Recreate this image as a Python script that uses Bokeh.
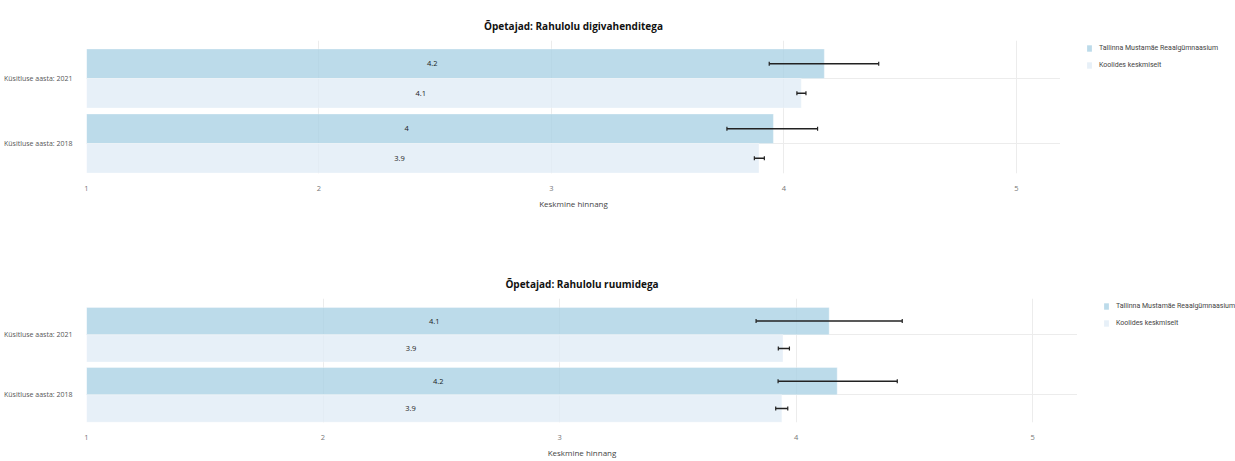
from bokeh.plotting import figure
from bokeh.models import (ColumnDataSource, Range1d, FixedTicker, Whisker, TeeHead,
                          Legend, LegendItem)
from bokeh.layouts import column, row
from bokeh.core.properties import value
from bokeh.embed import file_html
from bokeh.resources import INLINE

# ---------------- data ----------------
years = ["Küsitluse aasta: 2018", "Küsitluse aasta: 2021"]
series_names = ["Tallinna Mustamäe Reaalgümnaasium", "Koolides keskmiselt"]
x_ticks = [1, 2, 3, 4, 5]
x_axis_title = "Keskmine hinnang"

digi_title = "Õpetajad: Rahulolu digivahenditega"
digi_school = [3.955, 4.174]
digi_school_lo = [3.755, 3.937]
digi_school_hi = [4.145, 4.408]
digi_avg = [3.893, 4.075]
digi_avg_lo = [3.873, 4.056]
digi_avg_hi = [3.916, 4.095]

ruum_title = "Õpetajad: Rahulolu ruumidega"
ruum_school = [4.174, 4.140]
ruum_school_lo = [3.924, 3.831]
ruum_school_hi = [4.428, 4.449]
ruum_avg = [3.940, 3.945]
ruum_avg_lo = [3.914, 3.925]
ruum_avg_hi = [3.965, 3.972]

# ---------------- style ----------------
FONT = "Open Sans"
LEGEND_FONT = "Roboto"
SCHOOL_COLOR = "#abd2e5"
AVG_COLOR = "#e1ecf6"
BAR_ALPHA = 0.8
GRID_COLOR = "#ececec"
BAR_H = 0.455
OFFSET = 0.2275
BAR_BASE = 0.8


def label_of(v):
    return f"{round(v, 1):g}"


def make_chart(title, school, s_lo, s_hi, avg, a_lo, a_hi, width, height,
               b_top, b_bottom, y_start, y_end):
    idx = list(range(len(years)))
    src_s = ColumnDataSource(dict(
        y=[i + OFFSET for i in idx], v=school, lo=s_lo, hi=s_hi,
        tx=[(BAR_BASE + v) / 2 for v in school], lab=[label_of(v) for v in school]))
    src_a = ColumnDataSource(dict(
        y=[i - OFFSET for i in idx], v=avg, lo=a_lo, hi=a_hi,
        tx=[(BAR_BASE + v) / 2 for v in avg], lab=[label_of(v) for v in avg]))

    p = figure(width=width, height=height, output_backend="svg", toolbar_location=None,
               x_range=Range1d(1, 5.19), y_range=Range1d(y_start, y_end),
               min_border_left=86, min_border_right=0,
               min_border_top=b_top, min_border_bottom=b_bottom,
               title=title)
    p.outline_line_color = None
    p.background_fill_color = "white"
    p.border_fill_color = "white"

    p.title.align = "center"
    p.title.text_font = FONT
    p.title.text_font_style = "bold"
    p.title.text_font_size = "10px"
    p.title.text_color = "#111111"
    p.title.standoff = 15

    p.hbar(y="y", left=BAR_BASE, right="v", height=BAR_H, source=src_s,
           fill_color=SCHOOL_COLOR, fill_alpha=BAR_ALPHA,
           line_color="white", line_alpha=0.35, line_width=1)
    p.hbar(y="y", left=BAR_BASE, right="v", height=BAR_H, source=src_a,
           fill_color=AVG_COLOR, fill_alpha=BAR_ALPHA,
           line_color="white", line_alpha=0.35, line_width=1)

    for src in (src_s, src_a):
        p.text(x="tx", y="y", text="lab", source=src, text_align="center",
               text_baseline="middle", text_font=value(FONT), text_font_size="7.5px",
               text_color="#222222")
        w = Whisker(base="y", lower="lo", upper="hi", dimension="width", source=src,
                    line_color="#222222", line_width=1.5, level="overlay",
                    lower_head=TeeHead(size=4, line_width=1.2, line_color="#222222"),
                    upper_head=TeeHead(size=4, line_width=1.2, line_color="#222222"))
        p.add_layout(w)

    # axes
    p.xaxis.ticker = FixedTicker(ticks=x_ticks)
    p.xaxis.axis_line_color = None
    p.xaxis.major_tick_line_color = None
    p.xaxis.minor_tick_line_color = None
    p.xaxis.major_label_text_font = FONT
    p.xaxis.major_label_text_font_size = "7.5px"
    p.xaxis.major_label_text_color = "#777777"
    p.xaxis.major_label_standoff = 6
    p.xaxis.axis_label = x_axis_title
    p.xaxis.axis_label_text_font = FONT
    p.xaxis.axis_label_text_font_style = "normal"
    p.xaxis.axis_label_text_font_size = "8px"
    p.xaxis.axis_label_text_color = "#444444"
    p.xaxis.axis_label_standoff = 4

    p.yaxis.ticker = FixedTicker(ticks=idx)
    p.yaxis.major_label_overrides = {i: years[i] for i in idx}
    p.yaxis.axis_line_color = None
    p.yaxis.major_tick_line_color = None
    p.yaxis.minor_tick_line_color = None
    p.yaxis.major_label_text_font = FONT
    p.yaxis.major_label_text_font_size = "7px"
    p.yaxis.major_label_text_color = "#555555"
    p.yaxis.major_label_standoff = 8

    p.xgrid.grid_line_color = GRID_COLOR
    p.ygrid.grid_line_color = GRID_COLOR
    p.xgrid.ticker = FixedTicker(ticks=x_ticks)
    p.ygrid.ticker = FixedTicker(ticks=idx)
    return p


def make_legend(width, height, b_top, b_bottom):
    q = figure(width=width, height=height, output_backend="svg", toolbar_location=None,
               x_axis_location=None, y_axis_location=None,
               min_border_left=23, min_border_right=0,
               min_border_top=b_top, min_border_bottom=b_bottom,
               x_range=Range1d(0, 1), y_range=Range1d(0, 1))
    q.outline_line_color = None
    q.xgrid.visible = False
    q.ygrid.visible = False
    # legend swatches only: renderers with a single undrawable (NaN) row
    hidden = dict(y=[float("nan")], v=[float("nan")])
    r1 = q.hbar(y="y", left=0, right="v", height=0, source=ColumnDataSource(hidden),
                fill_color=SCHOOL_COLOR, fill_alpha=BAR_ALPHA, line_color=None)
    r2 = q.hbar(y="y", left=0, right="v", height=0, source=ColumnDataSource(hidden),
                fill_color=AVG_COLOR, fill_alpha=BAR_ALPHA, line_color=None)
    legend = Legend(items=[LegendItem(label=series_names[0], renderers=[r1]),
                           LegendItem(label=series_names[1], renderers=[r2])],
                    location="top_left", orientation="vertical",
                    padding=0, margin=3, spacing=7,
                    glyph_width=6, glyph_height=8, label_height=10,
                    label_standoff=7, border_line_color=None,
                    background_fill_alpha=0,
                    label_text_font=LEGEND_FONT, label_text_font_size="7px",
                    label_text_color="#444444")
    q.add_layout(legend, "center")
    return q


p1 = make_chart(digi_title, digi_school, digi_school_lo, digi_school_hi,
                digi_avg, digi_avg_lo, digi_avg_hi,
                width=1060, height=233, b_top=40, b_bottom=60,
                y_start=-0.4615, y_end=1.585)
l1 = make_legend(175, 233, 40, 60)
p2 = make_chart(ruum_title, ruum_school, ruum_school_lo, ruum_school_hi,
                ruum_avg, ruum_avg_lo, ruum_avg_hi,
                width=1077, height=227, b_top=65, b_bottom=32,
                y_start=-0.46, y_end=1.603)
l2 = make_legend(158, 227, 65, 32)

layout = column(row(p1, l1, spacing=0), row(p2, l2, spacing=0), spacing=0)
open("out.html", "w").write(file_html(layout, INLINE))
